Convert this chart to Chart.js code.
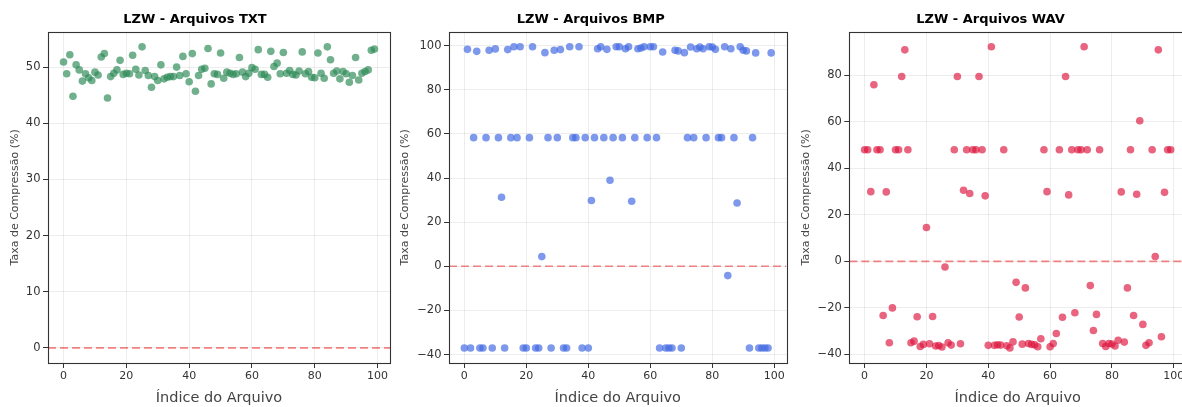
<!DOCTYPE html>
<html><head><meta charset="utf-8">
<script src="https://cdn.jsdelivr.net/npm/chart.js@4.4.1/dist/chart.umd.min.js"></script>
<style>
html,body{margin:0;padding:0;background:#fff;width:1182px;height:407px;overflow:hidden;position:relative}
canvas{position:absolute;top:0}
</style></head><body>
<canvas id="c1" width="395" height="407" style="left:0px"></canvas>
<canvas id="c2" width="400" height="407" style="left:395px"></canvas>
<canvas id="c3" width="405" height="407" style="left:795px"></canvas>
<script>
// ---- data ----
const fileIndex = [0,1,2,3,4,5,6,7,8,9,10,11,12,13,14,15,16,17,18,19,20,21,22,23,24,25,26,27,28,29,30,31,32,33,34,35,36,37,38,39,40,41,42,43,44,45,46,47,48,49,50,51,52,53,54,55,56,57,58,59,60,61,62,63,64,65,66,67,68,69,70,71,72,73,74,75,76,77,78,79,80,81,82,83,84,85,86,87,88,89,90,91,92,93,94,95,96,97,98,99];
const txtRates = [50.9,48.8,52.2,44.8,50.4,49.5,47.5,48.8,48.1,47.6,49.1,48.6,51.8,52.4,44.5,48.3,48.9,49.5,51.2,48.7,
  48.9,48.8,52.1,49.6,48.6,53.6,49.4,48.5,46.4,48.3,47.6,50.4,47.9,48.2,48.3,48.3,50.0,48.5,51.9,48.8,
  47.4,52.4,45.7,48.5,49.6,49.8,53.3,47.0,48.8,48.7,52.5,48.0,49.1,48.9,48.7,48.8,51.7,49.1,48.3,48.9,
  49.9,49.6,53.1,48.7,48.7,48.2,52.8,50.1,50.7,48.8,52.6,48.9,49.4,48.7,48.6,49.3,52.7,48.8,49.2,48.2,
  48.1,52.5,48.9,48.0,53.6,51.3,48.9,49.3,47.9,49.2,48.8,47.3,48.5,51.7,47.7,48.9,49.2,49.5,53.0,53.2];
const bmpRates = [-37.0,98.3,-37.0,58.3,97.4,-37.0,-37.0,58.3,97.9,-37.0,98.5,58.3,31.3,-37.0,98.2,58.3,99.5,58.3,99.5,-37.0,
  -37.0,58.3,99.5,-37.0,-37.0,4.4,96.8,58.3,-37.0,97.9,58.3,98.2,-37.0,-37.0,99.5,58.3,58.3,99.5,-37.0,58.3,
  -37.0,29.8,58.3,98.6,99.5,58.3,98.3,39.0,58.3,99.5,99.5,58.3,98.6,99.5,29.5,58.3,98.6,98.9,99.5,58.3,
  99.5,99.5,58.3,-37.0,97.1,-37.0,-37.0,-37.0,97.9,97.6,-37.0,96.8,58.3,99.4,58.3,98.6,99.4,98.6,58.3,99.5,
  99.4,98.3,58.3,58.3,99.5,-4.2,98.6,58.3,28.7,99.5,97.9,97.6,-37.0,58.3,96.7,-37.0,-37.0,-37.0,-37.0,96.7];
const wavRates = [48.0,48.0,30.0,76.0,48.0,48.0,-23.3,29.9,-35.0,-20.0,48.0,48.0,79.5,91.0,48.0,-35.0,-34.3,-23.8,-36.6,-35.7,
  14.6,-35.4,-23.7,-36.4,-36.2,-36.8,-2.4,-35.0,-36.0,48.0,79.5,-35.4,30.6,48.0,29.2,48.0,48.0,79.5,48.0,28.2,
  -36.1,92.3,-36.1,-35.9,-36.0,48.0,-36.3,-37.2,-34.6,-9.0,-23.9,-35.6,-11.4,-35.3,-35.7,-35.9,-36.7,-33.3,48.0,30.0,
  -36.7,-35.3,-31.0,48.0,-24.0,79.5,28.6,48.0,-22.1,48.0,48.0,92.3,48.0,-10.4,-29.7,-22.8,48.0,-35.3,-36.6,-35.3,
  -35.5,-36.4,-33.9,29.9,-34.7,-11.4,48.0,-23.3,28.9,60.5,-27.1,-36.1,-35.0,48.0,2.1,91.0,-32.4,29.7,48.0,48.0];
const panelTitles = ["LZW - Arquivos TXT", "LZW - Arquivos BMP", "LZW - Arquivos WAV"];
const xTitle = "Índice do Arquivo";
const yTitle = "Taxa de Compressão (%)";
const xLimits = [-4.95, 103.95];
const yLimits = [[-2.7, 56.3], [-43.8, 106.3], [-43.7, 98.8]];
const yStepSizes = [10, 20, 20];
const baseline = 0;

// ---- rendering ----
const FONT = "'DejaVu Sans', sans-serif";
const framePlugin = {
  id: 'frame',
  afterDatasetsDraw(chart) {
    const {ctx, chartArea: a} = chart;
    ctx.save();
    ctx.strokeStyle = '#333';
    ctx.lineWidth = 1.1;
    ctx.strokeRect(Math.round(a.left) + 0.5, Math.round(a.top) + 0.5, Math.round(a.right - a.left), Math.round(a.bottom - a.top));
    ctx.restore();
  }
};

function makeChart(id, rates, color, idx, yAxisW, yTitlePad, rightPad) {
  const pts = fileIndex.map((x, i) => ({x: x, y: rates[i]}));
  new Chart(document.getElementById(id), {
    type: 'scatter',
    data: {
      datasets: [
        {type: 'line', data: [{x: xLimits[0], y: baseline}, {x: xLimits[1], y: baseline}],
         borderColor: 'rgba(235,60,60,0.62)', borderWidth: 1.6, borderDash: [8, 4],
         pointRadius: 0, fill: false},
        {data: pts, backgroundColor: color, borderWidth: 0, pointRadius: 3.8, pointHoverRadius: 3.8}
      ]
    },
    options: {
      responsive: false, animation: false, events: [],
      layout: {padding: {left: 0, right: rightPad, top: 0, bottom: 0}},
      plugins: {
        legend: {display: false}, tooltip: {enabled: false},
        title: {display: true, text: panelTitles[idx], color: '#000',
          font: {family: FONT, size: 13, weight: 'bold'}, padding: {top: 11.5, bottom: 4.6}}
      },
      scales: {
        x: {type: 'linear', min: xLimits[0], max: xLimits[1],
          afterFit: s => { s.height = 44; },
          ticks: {stepSize: 20, includeBounds: false, color: '#333', padding: 2, font: {family: FONT, size: 11}},
          grid: {color: 'rgba(0,0,0,0.09)', lineWidth: 0.8, tickColor: '#333', tickLength: 5, tickWidth: 1},
          border: {display: false},
          title: {display: true, text: xTitle, color: '#444', font: {family: FONT, size: 14.5}, padding: {top: 0, bottom: 0}}
        },
        y: {type: 'linear', min: yLimits[idx][0], max: yLimits[idx][1],
          afterFit: s => { s.width = yAxisW; },
          ticks: {stepSize: yStepSizes[idx], includeBounds: false, color: '#333', padding: 2.5, font: {family: FONT, size: 11.5},
            callback: v => (v < 0 ? '\u2212' + Math.abs(v) : String(v))},
          grid: {color: 'rgba(0,0,0,0.09)', lineWidth: 0.8, tickColor: '#333', tickLength: 5, tickWidth: 1},
          border: {display: false},
          title: {display: true, text: yTitle, color: '#444', font: {family: FONT, size: 11}, padding: {top: yTitlePad, bottom: 0}}
        }
      }
    },
    plugins: [framePlugin]
  });
}

makeChart('c1', txtRates, 'rgba(46,139,87,0.68)', 0, 48, 9, 5);
makeChart('c2', bmpRates, 'rgba(65,105,225,0.68)', 1, 54, 3.4, 8.5);
makeChart('c3', wavRates, 'rgba(220,20,60,0.66)', 2, 54.3, 5, 14);
</script>
</body></html>
